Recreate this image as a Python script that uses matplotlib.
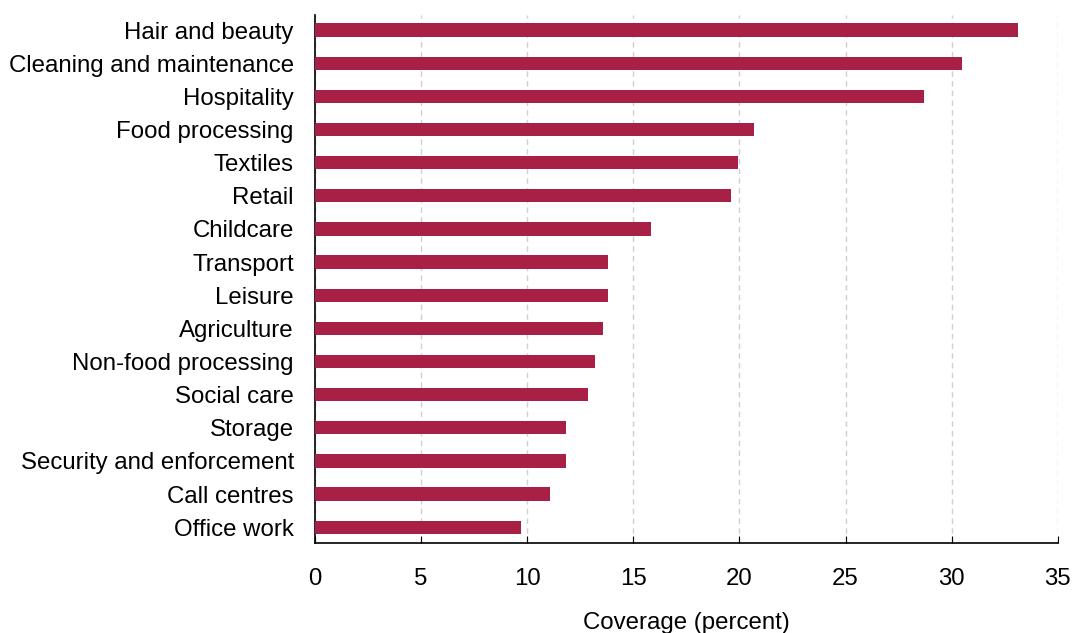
import matplotlib.pyplot as plt
import numpy as np

plt.rcParams['font.family'] = ['Liberation Sans', 'DejaVu Sans']

sectors = ['Hair and beauty', 'Cleaning and maintenance', 'Hospitality', 'Food processing',
           'Textiles', 'Retail', 'Childcare', 'Transport', 'Leisure', 'Agriculture',
           'Non-food processing', 'Social care', 'Storage', 'Security and enforcement',
           'Call centres', 'Office work']
coverage = [33.1, 30.5, 28.7, 20.7, 19.95, 19.6, 15.85, 13.8, 13.8, 13.6,
            13.2, 12.87, 11.85, 11.85, 11.07, 9.7]
x_ticks = [0, 5, 10, 15, 20, 25, 30, 35]

fig = plt.figure(figsize=(10.74, 6.33), dpi=100)
ax = fig.add_axes([0.293, 0.142, 0.692, 0.834])

y = np.arange(len(sectors))
ax.barh(y, coverage, height=0.4, color='#A82045', zorder=3)
ax.set_yticks(y)
ax.set_yticklabels(sectors, fontsize=17.3)
ax.set_ylim(len(sectors) - 0.52, -0.45)

ax.set_xlim(0, 35)
ax.set_xticks(x_ticks)
ax.set_xticklabels([str(t) for t in x_ticks], fontsize=17.3)
ax.xaxis.grid(True, linestyle=(0, (4, 3)), color='#d0d0d0', linewidth=1, zorder=0)

ax.spines['top'].set_visible(False)
ax.spines['right'].set_visible(False)
ax.spines['left'].set_linewidth(1.2)
ax.spines['bottom'].set_linewidth(1.2)
ax.tick_params(axis='y', length=0, pad=15)
ax.tick_params(axis='x', direction='in', length=5, pad=18)

ax.set_xlabel('Coverage (percent)', fontsize=17.3, labelpad=16)

fig.savefig('out.png', dpi=100)
